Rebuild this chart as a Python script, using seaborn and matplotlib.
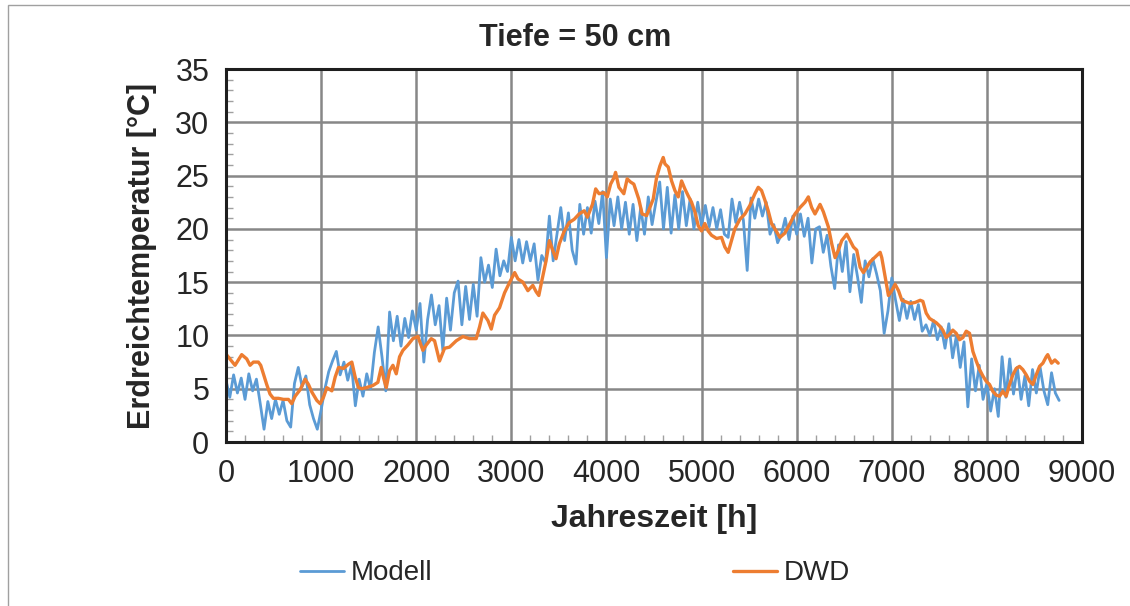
import numpy as np
import pandas as pd
import matplotlib
matplotlib.use("Agg")
import matplotlib.pyplot as plt
import matplotlib.patches as mpatches
from matplotlib.ticker import MultipleLocator
import seaborn as sns

# Modell: one reading every 40 h (0 ... 8760 h)
modell_step = 40
modell_temp = [
    5.8, 4.2, 6.3, 4.6, 6.0, 4.0, 6.4, 4.8, 5.9, 3.6,
    1.2, 3.8, 2.2, 4.0, 2.6, 3.9, 2.0, 1.4, 5.5, 7.0,
    5.2, 6.2, 3.5, 2.2, 1.2, 3.0, 5.0, 6.6, 7.6, 8.5,
    6.3, 7.5, 5.8, 7.2, 3.4, 5.9, 4.3, 6.4, 5.0, 8.4,
    10.8, 8.0, 4.8, 12.2, 9.5, 11.8, 9.0, 11.6, 9.8, 12.3,
    10.5, 13.0, 7.5, 11.5, 13.8, 11.0, 12.8, 8.6, 13.5, 10.5,
    14.0, 15.1, 11.0, 14.6, 11.5, 14.8, 11.8, 17.3, 15.0, 16.6,
    14.5, 18.1, 15.6, 17.0, 16.0, 19.2, 17.0, 19.0, 16.8, 18.8,
    17.0, 18.6, 15.2, 17.5, 16.8, 21.2, 17.0, 19.5, 22.0, 18.9,
    21.5, 18.0, 16.7, 22.3, 19.5, 22.0, 19.6, 22.6, 20.5, 23.5,
    17.3, 22.8, 20.3, 23.0, 20.0, 22.5, 19.5, 22.3, 18.9, 22.0,
    19.5, 23.0, 20.4, 22.5, 24.4, 20.0, 23.9, 19.6, 23.2, 20.0,
    23.5, 20.3, 22.8, 20.0, 22.5, 20.3, 22.2, 20.2, 22.0, 20.0,
    21.8, 19.5, 19.2, 22.8, 20.6, 22.5, 20.8, 16.1, 22.9, 21.0,
    22.8, 21.2, 22.5, 19.5, 20.4, 18.7, 19.5, 21.0, 19.0, 21.2,
    19.5, 21.4, 19.3, 21.0, 16.8, 20.0, 20.2, 17.8, 19.4, 16.5,
    14.4, 18.5, 16.0, 18.8, 14.1, 17.6, 15.5, 13.1, 17.0, 15.5,
    17.2, 15.8, 14.2, 10.2, 12.3, 15.4, 13.3, 11.4, 13.4, 11.6,
    13.2, 11.5, 12.9, 10.4, 11.0, 10.0, 11.4, 9.6, 10.8, 8.8,
    11.1, 7.9, 10.0, 7.0, 9.4, 3.3, 7.8, 4.8, 7.2, 4.0,
    5.5, 2.9, 5.0, 2.4, 8.0, 4.2, 7.8, 4.5, 7.0, 4.0,
    6.2, 3.4, 6.8, 4.6, 7.0, 4.8, 3.5, 6.5, 4.6, 3.9,
]

# DWD: readings taken along the orange curve
dwd_hours = [
    0, 95, 165, 218, 253, 288, 340, 365, 393, 428,
    463, 498, 551, 604, 656, 691, 727, 779, 832, 867,
    902, 955, 990, 1025, 1060, 1113, 1148, 1183, 1235, 1288,
    1323, 1358, 1393, 1429, 1474, 1544, 1597, 1632, 1660, 1685,
    1720, 1755, 1790, 1825, 1860, 1912, 1965, 2018, 2070, 2105,
    2158, 2193, 2245, 2298, 2350, 2421, 2491, 2561, 2631, 2666,
    2701, 2754, 2789, 2824, 2876, 2929, 2983, 3035, 3070, 3122,
    3174, 3226, 3261, 3289, 3313, 3365, 3400, 3435, 3470, 3505,
    3557, 3609, 3661, 3713, 3766, 3800, 3853, 3887, 3922, 3974,
    4009, 4044, 4079, 4096, 4131, 4183, 4218, 4253, 4288, 4340,
    4375, 4422, 4457, 4492, 4527, 4562, 4597, 4615, 4650, 4685,
    4720, 4755, 4790, 4825, 4860, 4895, 4930, 4965, 5000, 5035,
    5070, 5105, 5158, 5210, 5245, 5280, 5315, 5350, 5403, 5456,
    5508, 5561, 5596, 5631, 5666, 5701, 5736, 5771, 5824, 5876,
    5930, 5982, 6035, 6088, 6123, 6158, 6193, 6228, 6246, 6281,
    6333, 6369, 6404, 6439, 6474, 6527, 6597, 6632, 6667, 6702,
    6737, 6772, 6807, 6842, 6878, 6895, 6930, 6965, 7000, 7035,
    7071, 7106, 7193, 7246, 7299, 7327, 7362, 7397, 7467, 7502,
    7537, 7572, 7607, 7642, 7678, 7713, 7748, 7783, 7818, 7853,
    7888, 7923, 7958, 7993, 8028, 8063, 8098, 8133, 8168, 8203,
    8238, 8273, 8308, 8343, 8378, 8414, 8449, 8484, 8519, 8554,
    8589, 8624, 8640, 8680, 8715, 8750,
]
dwd_temp = [
    8.25, 7.2, 8.2, 7.8, 7.2, 7.5, 7.5, 7.2, 6.4, 5.4,
    4.5, 4.1, 4.1, 4.0, 4.0, 3.6, 4.3, 4.9, 5.9, 5.4,
    4.7, 3.9, 3.6, 4.2, 5.1, 4.8, 6.1, 7.0, 6.9, 7.3,
    7.5, 6.1, 5.1, 5.0, 5.1, 5.3, 5.6, 7.0, 5.9, 5.1,
    6.7, 7.2, 6.4, 8.0, 8.6, 9.1, 9.7, 9.9, 8.6, 9.1,
    9.7, 9.5, 7.6, 8.8, 8.9, 9.5, 9.9, 9.7, 9.7, 10.8,
    12.1, 11.4, 10.6, 11.9, 12.6, 14.0, 15.0, 15.9, 15.3, 15.0,
    14.2, 14.7, 14.1, 13.75, 14.8, 17.0, 18.9, 18.0, 17.2, 18.6,
    19.8, 20.6, 20.9, 21.4, 21.7, 21.1, 22.3, 23.75, 23.3, 23.4,
    23.0, 24.2, 24.8, 25.3, 23.9, 23.3, 24.7, 24.4, 24.2, 22.8,
    21.4, 21.25, 22.0, 22.8, 24.8, 25.9, 26.7, 26.1, 25.8, 24.5,
    23.6, 23.0, 24.5, 23.75, 23.1, 22.5, 21.6, 20.3, 19.8, 20.5,
    19.8, 19.4, 19.1, 19.2, 18.3, 17.8, 18.9, 20.0, 20.9, 21.4,
    22.2, 23.3, 23.9, 23.6, 22.7, 21.7, 20.5, 20.0, 19.2, 19.6,
    20.5, 21.4, 22.0, 22.5, 23.0, 22.0, 21.4, 22.0, 22.3, 21.6,
    20.2, 18.6, 17.3, 18.0, 18.9, 19.5, 18.3, 18.0, 16.4, 15.9,
    16.4, 16.9, 17.2, 17.5, 17.8, 17.3, 15.5, 13.75, 14.2, 14.8,
    14.2, 13.3, 13.0, 13.1, 13.3, 13.2, 12.1, 11.6, 11.2, 10.9,
    10.5, 9.8, 10.1, 10.5, 10.2, 9.6, 9.8, 10.4, 10.2, 8.5,
    7.6, 6.8, 6.2, 5.7, 5.4, 4.75, 4.4, 4.3, 4.75, 4.3,
    5.4, 6.3, 6.9, 7.1, 6.8, 6.3, 5.7, 5.4, 6.3, 7.1,
    7.4, 8.0, 8.2, 7.4, 7.7, 7.4,
]

modell = pd.DataFrame({
    "Stunde": np.arange(len(modell_temp)) * modell_step,
    "Temperatur": modell_temp,
})
dwd = pd.DataFrame({"Stunde": dwd_hours, "Temperatur": dwd_temp})

sns.set_style("white")
plt.rcParams["font.family"] = ["Liberation Sans", "DejaVu Sans"]

BLUE = "#5B9BD5"
ORANGE = "#ED7D31"
GRID = "#878787"

fig = plt.figure(figsize=(11.3, 6.06), dpi=100)
ax = fig.add_axes([0.2, 0.2706, 0.7575, 0.6155])

sns.lineplot(data=modell, x="Stunde", y="Temperatur", ax=ax, color=BLUE,
             linewidth=2.0, estimator=None, sort=False, label="Modell")
sns.lineplot(data=dwd, x="Stunde", y="Temperatur", ax=ax, color=ORANGE,
             linewidth=2.4, estimator=None, sort=False, label="DWD")

ax.set_xlim(0, 9000)
ax.set_ylim(0, 35)
ax.set_xticks(range(0, 9001, 1000))
ax.set_yticks(range(0, 36, 5))
ax.xaxis.set_minor_locator(MultipleLocator(200))
ax.yaxis.set_minor_locator(MultipleLocator(1))
ax.grid(which="major", color=GRID, linewidth=1.8)
ax.set_axisbelow(True)
ax.tick_params(which="major", direction="out", length=7, width=1.2,
               color="#a0a0a0", labelsize=22, pad=5)
ax.tick_params(which="minor", direction="in", length=5, width=1.0,
               color="#a0a0a0", left=True, bottom=True)
for side in ["left", "right", "top", "bottom"]:
    ax.spines[side].set_visible(True)
    ax.spines[side].set_color("#1e1e1e")
    ax.spines[side].set_linewidth(2.2)

ax.set_xlabel("Jahreszeit [h]", fontsize=23, fontweight="bold", labelpad=11)
ax.set_ylabel("Erdreichtemperatur [°C]", fontsize=22, fontweight="bold",
              labelpad=13)
fig.text(0.509, 0.937, "Tiefe = 50 cm", ha="center", va="center",
         fontsize=22, fontweight="bold")

handles, labels = ax.get_legend_handles_labels()
ax.get_legend().remove()
fig.legend(handles, labels, loc="center", bbox_to_anchor=(0.509, 0.054),
           ncol=2, frameon=False, fontsize=20, handlelength=1.6,
           handletextpad=0.25, columnspacing=10.8)

fig.patches.append(mpatches.Rectangle(
    (0.007, -0.02), 1.0, 1.0117, transform=fig.transFigure,
    fill=False, edgecolor="#a0a0a0", linewidth=1.0))

fig.savefig("out.png", dpi=100)
plt.close(fig)
